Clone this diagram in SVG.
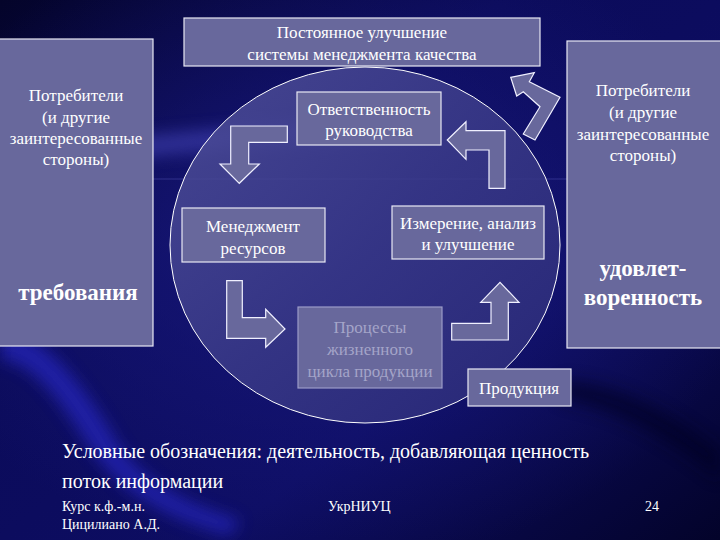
<svg xmlns="http://www.w3.org/2000/svg" width="720" height="540" viewBox="0 0 720 540">
<defs>
<linearGradient id="bg" x1="0" y1="0" x2="1" y2="1">
<stop offset="0" stop-color="#04042a"/>
<stop offset="0.35" stop-color="#0b0b5a"/>
<stop offset="0.65" stop-color="#0d0d62"/>
<stop offset="1" stop-color="#03032a"/>
</linearGradient>
<radialGradient id="glow" cx="0.45" cy="0.45" r="0.6">
<stop offset="0" stop-color="#1a1a80" stop-opacity="0.8"/>
<stop offset="1" stop-color="#1a1a80" stop-opacity="0"/>
</radialGradient>
<linearGradient id="ell" x1="0" y1="0" x2="1" y2="1">
<stop offset="0" stop-color="#50509a"/>
<stop offset="0.5" stop-color="#3a3a88"/>
<stop offset="1" stop-color="#2a2a78"/>
</linearGradient>
<filter id="blur" x="-20%" y="-50%" width="140%" height="200%"><feGaussianBlur stdDeviation="8"/></filter>
<style>
.box{fill:#68689c;stroke:#e8e8f4;stroke-width:1.2}
.arr{fill:#68689c;stroke:#f0f0ff;stroke-width:1.2;stroke-linejoin:miter}
text{font-family:'Liberation Serif','Times New Roman','DejaVu Serif',serif}
.t{fill:#ffffff;font-size:17px;text-anchor:middle}
.b{fill:#ffffff;font-size:23px;font-weight:bold;text-anchor:middle}
.g{fill:#a4a4c8}
.l{fill:#ffffff;font-size:20px}
.f{fill:#ffffff;font-size:14px}
</style>
</defs>
<g id="background">
<rect width="720" height="540" fill="url(#bg)"/>
<rect width="720" height="540" fill="url(#glow)"/>
<path d="M0,150 C120,140 260,120 420,120 L420,138 C260,140 120,160 0,175 Z" fill="#4a4ac0" opacity="0.55" filter="url(#blur)"/>
<path d="M0,330 C40,330 80,380 110,430 C130,470 170,500 240,520 L230,535 C150,515 110,480 85,440 C60,400 30,360 0,360 Z" fill="#2a2ad0" opacity="0.6" filter="url(#blur)"/>
<path d="M560,380 C620,380 680,420 720,450 L720,480 C670,440 620,410 560,400 Z" fill="#020220" opacity="0.6" filter="url(#blur)"/>
<line x1="150" y1="179" x2="720" y2="179" stroke="#6a6ad0" stroke-width="1" opacity="0.35"/>
</g>
<g id="cycle">
<ellipse cx="365" cy="245" rx="195" ry="178" fill="url(#ell)" fill-opacity="0.85" stroke="#ffffff" stroke-width="1"/>
</g>
<g id="customers-left">
<rect class="box" x="-1" y="39" width="154" height="307"/>
<text class="t" x="76" y="101">Потребители</text>
<text class="t" x="76" y="123">(и другие</text>
<text class="t" x="76" y="144">заинтересованные</text>
<text class="t" x="76" y="165">стороны)</text>
<text class="b" x="78" y="300">требования</text>
</g>
<g id="improvement">
<rect class="box" x="184" y="18" width="356" height="48"/>
<text class="t" x="362" y="38">Постоянное улучшение</text>
<text class="t" x="362" y="60">системы менеджмента качества</text>
</g>
<g id="customers-right">
<rect class="box" x="567" y="41" width="154" height="307"/>
<text class="t" x="643" y="96">Потребители</text>
<text class="t" x="643" y="118">(и другие</text>
<text class="t" x="643" y="140">заинтересованные</text>
<text class="t" x="643" y="161">стороны)</text>
<text class="b" x="643" y="276">удовлет-</text>
<text class="b" x="643" y="305">воренность</text>
</g>
<g id="responsibility">
<rect class="box" x="297" y="92" width="144" height="53"/>
<text class="t" x="369" y="115">Ответственность</text>
<text class="t" x="369" y="136">руководства</text>
</g>
<g id="resources">
<rect class="box" x="182" y="208" width="143" height="54"/>
<text class="t" x="253" y="232">Менеджмент</text>
<text class="t" x="253" y="254">ресурсов</text>
</g>
<g id="measurement">
<rect class="box" x="392" y="206" width="152" height="53"/>
<text class="t" x="468" y="229">Измерение, анализ</text>
<text class="t" x="468" y="250">и улучшение</text>
</g>
<g id="processes">
<rect class="box" x="298" y="307" width="144" height="81" style="stroke:#9c9cc8"/>
<text class="t g" x="370" y="333">Процессы</text>
<text class="t g" x="370" y="355">жизненного</text>
<text class="t g" x="370" y="377">цикла продукции</text>
</g>
<g id="product">
<rect class="box" x="468" y="369" width="103" height="37"/>
<text class="t" x="519" y="394">Продукция</text>
</g>
<g id="connectors">
<polygon class="arr" points="230.7,126 287.3,126 287.3,142.3 248.7,142.3 248.7,164 259.3,164 239.3,183.3 220,164 230.7,164"/>
<polygon class="arr" points="447.3,140 466,121.7 466,130.7 505,130.7 505,188.3 489,188.3 489,150 466,150 466,159.3"/>
<polygon class="arr" points="510.7,77.3 534.3,72.7 529.3,81.7 560,97.3 535,140 523.3,134 540,106.7 523.3,91.7 516.7,96"/>
<polygon class="arr" points="226.7,280.7 242.3,280.7 242.3,317.7 265.7,317.7 265.7,309.3 285,329 265.7,347.3 265.7,338.3 226.7,338.3"/>
<polygon class="arr" points="451.7,340 508.3,340 508.3,302.3 519,302.3 500,282.3 480.7,302.3 491,302.3 491,323.3 451.7,323.3"/>
</g>
<g id="legend">
<text class="l" x="62" y="458">Условные обозначения: деятельность, добавляющая ценность</text>
<text class="l" x="62" y="488">поток информации</text>
<text class="f" x="62" y="511">Курс к.ф.-м.н.</text>
<text class="f" x="62" y="529">Цицилиано А.Д.</text>
<text class="f" x="328" y="511">УкрНИУЦ</text>
<text class="f" x="645" y="511">24</text>
</g>
</svg>
